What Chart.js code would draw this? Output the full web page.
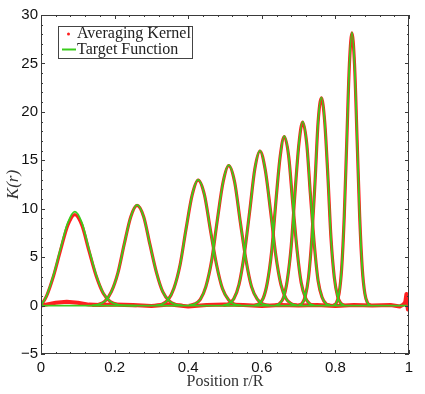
<!DOCTYPE html>
<html>
<head>
<meta charset="utf-8">
<script src="https://cdn.jsdelivr.net/npm/chart.js@4/dist/chart.umd.min.js"></script>
<style>
  html, body { margin: 0; padding: 0; background: #fff; }
  #wrap { width: 425px; height: 394px; }
</style>
</head>
<body>
<div id="wrap"><canvas id="kernelChart" width="425" height="394"></canvas></div>
<script>
// one row per target radius
const kernelX = [
  [0, 0.015, 0.034, 0.053, 0.073, 0.092, 0.111, 0.130, 0.150, 0.169, 0.188, 0.208, 0.227, 0.26],
  [0.139, 0.156, 0.174, 0.191, 0.209, 0.226, 0.244, 0.261, 0.279, 0.296, 0.314, 0.331, 0.349, 0.366, 0.384],
  [0.312, 0.328, 0.345, 0.361, 0.378, 0.394, 0.411, 0.427, 0.444, 0.460, 0.477, 0.493, 0.510, 0.526, 0.543],
  [0.402, 0.417, 0.433, 0.448, 0.464, 0.479, 0.495, 0.510, 0.526, 0.541, 0.557, 0.572, 0.588, 0.603, 0.619],
  [0.495, 0.510, 0.524, 0.538, 0.552, 0.567, 0.581, 0.595, 0.609, 0.624, 0.638, 0.652, 0.666, 0.681, 0.695],
  [0.581, 0.592, 0.604, 0.615, 0.627, 0.638, 0.650, 0.661, 0.673, 0.684, 0.696, 0.707, 0.719, 0.730, 0.742],
  [0.638, 0.648, 0.659, 0.669, 0.680, 0.690, 0.701, 0.711, 0.722, 0.732, 0.743, 0.753, 0.764, 0.774, 0.785],
  [0.701, 0.710, 0.718, 0.727, 0.736, 0.745, 0.753, 0.762, 0.771, 0.780, 0.788, 0.797, 0.806, 0.815, 0.823],
  [0.796, 0.803, 0.810, 0.817, 0.824, 0.831, 0.838, 0.845, 0.852, 0.859, 0.866, 0.873, 0.880, 0.887, 0.894]
];

const targetY = [
  [0, 1.0, 3.15, 5.88, 8.56, 9.7, 8.56, 5.88, 3.15, 1.31, 0.43, 0.11, 0.02, 0],
  [0.02, 0.12, 0.46, 1.41, 3.38, 6.31, 9.18, 10.4, 9.18, 6.31, 3.38, 1.41, 0.46, 0.12, 0.02],
  [0.03, 0.14, 0.57, 1.76, 4.22, 7.88, 11.47, 13.0, 11.47, 7.88, 4.22, 1.76, 0.57, 0.14, 0.03],
  [0.03, 0.16, 0.64, 1.96, 4.71, 8.79, 12.80, 14.5, 12.80, 8.79, 4.71, 1.96, 0.64, 0.16, 0.03],
  [0.04, 0.18, 0.70, 2.16, 5.20, 9.70, 14.12, 16.0, 14.12, 9.70, 5.20, 2.16, 0.70, 0.18, 0.04],
  [0.04, 0.19, 0.77, 2.37, 5.68, 10.61, 15.44, 17.5, 15.44, 10.61, 5.68, 2.37, 0.77, 0.19, 0.04],
  [0.04, 0.21, 0.83, 2.57, 6.17, 11.52, 16.77, 19.0, 16.77, 11.52, 6.17, 2.57, 0.83, 0.21, 0.04],
  [0.05, 0.24, 0.94, 2.91, 6.98, 13.04, 18.97, 21.5, 18.97, 13.04, 6.98, 2.91, 0.94, 0.24, 0.05],
  [0.06, 0.31, 1.24, 3.82, 9.16, 17.10, 24.89, 28.2, 24.89, 17.10, 9.16, 3.82, 1.24, 0.31, 0.06]
];

const kernelY = [
  [0, 0.97, 3.05, 5.70, 8.30, 9.4, 8.30, 5.70, 3.05, 1.27, 0.42, 0.11, 0.02, 0],
  [0.02, 0.12, 0.46, 1.41, 3.38, 6.31, 9.18, 10.35, 9.18, 6.31, 3.38, 1.41, 0.46, 0.12, 0.02],
  [0.03, 0.14, 0.57, 1.76, 4.22, 7.88, 11.45, 12.95, 11.45, 7.88, 4.22, 1.76, 0.57, 0.14, 0.03],
  [0.03, 0.16, 0.64, 1.96, 4.71, 8.79, 12.78, 14.45, 12.78, 8.79, 4.71, 1.96, 0.64, 0.16, 0.03],
  [0.04, 0.18, 0.70, 2.16, 5.20, 9.70, 14.10, 15.95, 14.10, 9.70, 5.20, 2.16, 0.70, 0.18, 0.04],
  [0.04, 0.19, 0.77, 2.37, 5.68, 10.61, 15.42, 17.45, 15.42, 10.61, 5.68, 2.37, 0.77, 0.19, 0.04],
  [0.04, 0.21, 0.83, 2.57, 6.17, 11.52, 16.75, 18.95, 16.75, 11.52, 6.17, 2.57, 0.83, 0.21, 0.04],
  [0.05, 0.24, 0.94, 2.91, 6.98, 13.04, 18.95, 21.45, 18.95, 13.04, 6.98, 2.91, 0.94, 0.24, 0.05],
  [0.06, 0.31, 1.24, 3.82, 9.16, 17.10, 24.87, 28.15, 24.87, 17.10, 9.16, 3.82, 1.24, 0.31, 0.06]
];

// ripples of the averaging kernels along zero, with the spike at the surface
const rippleX = [0, 0.02, 0.04, 0.07, 0.10, 0.13, 0.16, 0.20, 0.25, 0.30, 0.35, 0.40, 0.45, 0.50, 0.55,
  0.60, 0.65, 0.70, 0.75, 0.80, 0.85, 0.90, 0.95, 0.975, 0.985, 0.990, 0.993, 0.995, 0.997, 0.999];
const rippleY = [0, 0.15, 0.3, 0.4, 0.3, 0.1, 0.05, 0.1, 0.05, -0.05, 0.1, -0.1, 0.05, 0.1, 0.05,
  -0.05, 0.05, 0, 0.05, -0.05, 0.05, 0, 0.05, -0.1, 0.1, 0.4, 1.2, 0.2, -0.4, 0];

const baseX = [0, 0.995];
const baseY = [0, 0];

const legendLabels = ['Averaging Kernel', 'Target Function'];

const kernelColor = '#ff1f1f';
const targetColor = '#3acc1c';
const serif = '"Liberation Serif", "Times New Roman", serif';
const sans = '"Liberation Sans", Arial, sans-serif';

const toPoints = (xs, ys) => xs.map((x, i) => ({ x: x, y: ys[i] }));

const datasets = [];
datasets.push({
  label: legendLabels[0],
  data: toPoints(rippleX, rippleY),
  borderColor: kernelColor,
  borderWidth: 4,
  borderJoinStyle: 'round',
  order: 3,
  cubicInterpolationMode: 'default',
  tension: 0
});
kernelX.forEach((xs, k) => {
  datasets.push({
    label: legendLabels[0],
    data: toPoints(xs, kernelY[k]),
    borderColor: kernelColor,
    borderWidth: 3.2,
    order: 2
  });
  datasets.push({
    label: legendLabels[1],
    data: toPoints(xs, targetY[k]),
    borderColor: targetColor,
    borderWidth: 1.8,
    order: 1
  });
});
datasets.push({
  label: legendLabels[1],
  data: toPoints(baseX, baseY),
  borderColor: targetColor,
  borderWidth: 1.8,
  order: 1
});

// frame with inward ticks on all four sides
const frameTicks = {
  id: 'frameTicks',
  afterDatasetsDraw(chart) {
    const { ctx, chartArea: a, scales: { x, y } } = chart;
    ctx.save();
    ctx.strokeStyle = '#3a3a3a';
    ctx.lineWidth = 1;
    ctx.beginPath();
    for (let i = 0; i <= 25; i++) {
      const px = Math.round(x.getPixelForValue(i * 0.04)) + 0.5;
      const len = i % 5 === 0 ? 4 : 2;
      ctx.moveTo(px, a.bottom); ctx.lineTo(px, a.bottom - len);
      ctx.moveTo(px, a.top); ctx.lineTo(px, a.top + len);
    }
    for (let v = -5; v <= 30; v++) {
      const py = Math.round(y.getPixelForValue(v)) + 0.5;
      const len = v % 5 === 0 ? 4 : 2;
      ctx.moveTo(a.left, py); ctx.lineTo(a.left + len, py);
      ctx.moveTo(a.right, py); ctx.lineTo(a.right - len, py);
    }
    ctx.stroke();
    ctx.strokeRect(a.left + 0.5, a.top + 0.5, a.right - a.left - 1, a.bottom - a.top - 1);
    ctx.restore();
  }
};

const legendBox = {
  id: 'legendBox',
  afterDraw(chart) {
    const ctx = chart.ctx;
    ctx.save();
    ctx.fillStyle = '#fff';
    ctx.strokeStyle = '#444';
    ctx.lineWidth = 1;
    ctx.fillRect(58.5, 26.5, 134, 32);
    ctx.strokeRect(58.5, 26.5, 134, 32);
    ctx.fillStyle = kernelColor;
    ctx.beginPath();
    ctx.arc(68.5, 34, 1.5, 0, Math.PI * 2);
    ctx.fill();
    ctx.strokeStyle = targetColor;
    ctx.lineWidth = 2;
    ctx.beginPath();
    ctx.moveTo(62, 49.5);
    ctx.lineTo(76, 49.5);
    ctx.stroke();
    ctx.fillStyle = '#222';
    ctx.font = '16px ' + serif;
    ctx.textBaseline = 'middle';
    ctx.fillText(legendLabels[0], 77, 34);
    ctx.fillText(legendLabels[1], 77, 49.5);
    ctx.restore();
  }
};

new Chart(document.getElementById('kernelChart'), {
  type: 'line',
  data: { datasets: datasets },
  options: {
    responsive: false,
    animation: false,
    layout: { padding: { top: 15, right: 16, left: 0, bottom: 0 } },
    elements: {
      point: { radius: 0 },
      line: { cubicInterpolationMode: 'monotone', fill: false }
    },
    plugins: {
      legend: { display: false },
      tooltip: { enabled: false }
    },
    scales: {
      x: {
        type: 'linear',
        min: 0,
        max: 1,
        afterFit: (s) => { s.height = 40; },
        grid: { display: false, drawTicks: false },
        border: { display: false },
        ticks: {
          stepSize: 0.2,
          padding: 5,
          color: '#111',
          font: { family: sans, size: 15 },
          maxRotation: 0,
          callback: (v) => String(+v.toFixed(1))
        },
        title: {
          display: true,
          text: 'Position r/R',
          color: '#333',
          font: { family: serif, size: 16 },
          padding: { top: 0, bottom: 3 }
        }
      },
      y: {
        min: -5,
        max: 30,
        afterFit: (s) => { s.width = 41; },
        grid: { display: false, drawTicks: false },
        border: { display: false },
        ticks: {
          stepSize: 5,
          padding: 3,
          color: '#111',
          font: { family: sans, size: 15 },
          callback: (v) => String(v).replace('-', '\u2212')
        },
        title: {
          display: true,
          text: 'K(r)',
          color: '#333',
          font: { family: serif, size: 17, style: 'italic' },
          padding: { top: 3, bottom: 0 }
        }
      }
    }
  },
  plugins: [frameTicks, legendBox]
});
</script>
</body>
</html>
